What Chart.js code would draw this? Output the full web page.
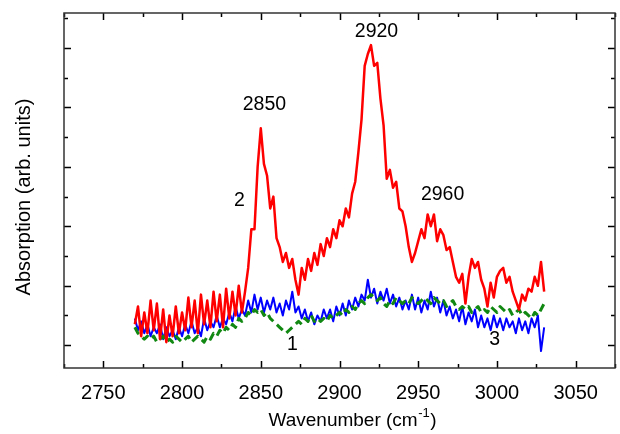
<!DOCTYPE html>
<html>
<head>
<meta charset="utf-8">
<script src="https://cdn.jsdelivr.net/npm/chart.js@4.4.1/dist/chart.umd.min.js"></script>
<style>
html,body{margin:0;padding:0;background:#fff;}
#c{display:block;}
</style>
</head>
<body>
<canvas id="c" width="620" height="434"></canvas>
<script>
const wavenumbers = [2770,2772,2774,2776,2778,2780,2782,2784,2786,2788,2790,2792,2794,2796,2798,2800,2802,2804,2806,2808,2810,2812,2814,2816,2818,2820,2822,2824,2826,2828,2830,2832,2834,2836,2838,2840,2842,2844,2846,2848,2850,2852,2854,2856,2858,2860,2862,2864,2866,2868,2870,2872,2874,2876,2878,2880,2882,2884,2886,2888,2890,2892,2894,2896,2898,2900,2902,2904,2906,2908,2910,2912,2914,2916,2918,2920,2922,2924,2926,2928,2930,2932,2934,2936,2938,2940,2942,2944,2946,2948,2950,2952,2954,2956,2958,2960,2962,2964,2966,2968,2970,2972,2974,2976,2978,2980,2982,2984,2986,2988,2990,2992,2994,2996,2998,3000,3002,3004,3006,3008,3010,3012,3014,3016,3018,3020,3022,3024,3026,3028,3030];

// curve 2 (red)
const series2 = [0.7,1.3,0.3,1.1,0.4,1.5,0.5,1.4,0.2,1.2,0.1,1.0,0.3,1.3,0.4,1.1,0.5,1.6,0.6,1.5,0.4,1.7,0.7,1.5,0.6,1.8,0.8,1.7,0.6,1.9,0.9,1.8,1.0,2.0,1.1,1.8,2.6,3.9,3.9,6.0,7.3,6.1,5.7,4.6,5.0,3.6,3.3,2.8,3.1,2.6,2.9,2.2,1.7,2.6,2.2,2.9,2.5,3.1,2.7,3.4,3.0,3.6,3.3,3.9,3.6,4.2,4.0,4.6,4.3,5.1,5.5,6.5,7.6,9.4,9.8,10.1,9.4,9.5,8.3,7.4,5.6,5.9,5.3,5.5,4.6,4.5,4.0,3.3,2.8,3.1,3.5,3.9,3.6,4.4,4.0,4.4,3.5,3.9,3.7,3.2,3.3,2.8,2.3,2.1,2.4,1.4,2.3,2.9,2.6,2.8,2.2,1.9,1.3,2.1,1.6,2.3,2.5,2.6,2.1,2.3,1.8,1.5,1.2,1.7,1.5,1.9,1.8,2.3,2.0,2.8,1.8];

// curve 3 (blue)
const series3 = [0.9,0.5,0.8,0.4,0.7,0.3,0.6,0.4,0.7,0.2,0.6,0.3,0.5,0.2,0.6,0.3,0.7,0.4,0.8,0.4,0.6,0.3,0.9,0.5,0.8,0.6,1.0,0.6,0.9,0.7,1.1,0.8,1.3,0.9,1.2,1.0,1.5,1.1,1.7,1.2,1.6,1.1,1.5,1.2,1.6,1.1,1.4,1.0,1.5,1.2,1.8,1.1,1.3,0.9,1.2,0.8,1.1,0.7,1.0,0.8,1.2,0.9,1.2,0.8,1.3,1.0,1.4,1.0,1.5,1.2,1.6,1.3,1.7,1.5,2.2,1.6,1.9,1.4,1.8,1.5,1.9,1.4,1.7,1.3,1.6,1.2,1.5,1.2,1.7,1.2,1.6,1.1,1.5,1.2,1.8,1.3,1.6,1.1,1.5,1.0,1.3,0.9,1.2,0.8,1.3,0.7,1.1,0.8,1.2,0.6,1.0,0.6,0.9,0.5,1.0,0.6,0.9,0.5,0.9,0.6,0.8,0.4,0.9,0.5,0.8,0.4,0.9,0.6,1.0,-0.2,0.6];

// curve 1 (green dashed)
const series1 = [0.6,0.4,0.3,0.2,0.3,0.2,0.3,0.1,0.2,0.3,0.1,0.2,0.1,0.3,0.2,0.1,0.2,0.3,0.1,0.2,0.3,0.2,0.1,0.3,0.2,0.4,0.3,0.5,0.4,0.6,0.5,0.7,0.6,0.9,0.8,0.9,1.1,1.0,1.2,1.1,1.2,1.0,1.1,0.9,0.8,0.7,0.6,0.5,0.4,0.5,0.6,0.7,0.8,0.7,0.9,0.8,1.0,0.8,0.9,0.8,0.9,0.8,1.0,0.9,1.0,1.1,1.0,1.2,1.1,1.3,1.2,1.4,1.5,1.4,1.6,1.7,1.6,1.5,1.6,1.4,1.3,1.5,1.4,1.6,1.5,1.4,1.5,1.4,1.6,1.5,1.4,1.5,1.6,1.5,1.4,1.6,1.5,1.4,1.5,1.3,1.4,1.5,1.3,1.2,1.3,1.2,1.3,1.1,1.2,1.3,1.1,1.2,1.1,1.3,1.2,1.1,1.3,1.2,1.1,1.2,1.0,1.1,1.2,1.0,1.1,1.0,0.9,1.1,1.0,1.2,1.4];

const xTickLabels = [2750, 2800, 2850, 2900, 2950, 3000, 3050];
const peakLabels = [
  {text: '2850', x: 2852.3, y: 8.08},
  {text: '2920', x: 2923.5, y: 10.54},
  {text: '2960', x: 2965.5, y: 5.08}
];
const curveLabels = [
  {text: '2', x: 2836.4, y: 4.85},
  {text: '1', x: 2870.1, y: 0.03},
  {text: '3', x: 2998.6, y: 0.2}
];

const FONT = '"Liberation Sans", Arial, sans-serif';

function pts(arr){ return wavenumbers.map((w,i)=>({x:w, y:arr[i]})); }

const framePlugin = {
  id: 'frame',
  afterDatasetsDraw(chart){
    const {ctx, chartArea:a, scales:{x, y}} = chart;
    ctx.save();
    ctx.strokeStyle = '#000';
    ctx.lineWidth = 1.5;
    ctx.beginPath();
    for (let v = 2725; v <= 3075; v += 25){
      const px = Math.round(x.getPixelForValue(v)) + 0.5;
      const len = (v % 50 === 0) ? 7 : 4;
      ctx.moveTo(px, a.bottom); ctx.lineTo(px, a.bottom - len);
      ctx.moveTo(px, a.top); ctx.lineTo(px, a.top + len);
    }
    for (let v = 0; v <= 11; v += 1){
      const py = Math.round(y.getPixelForValue(v)) + 0.5;
      const len = (v % 2 === 0) ? 7 : 4;
      ctx.moveTo(a.left, py); ctx.lineTo(a.left + len, py);
      ctx.moveTo(a.right, py); ctx.lineTo(a.right - len, py);
    }
    ctx.stroke();
    ctx.strokeStyle = '#333';
    ctx.lineWidth = 1.5;
    ctx.strokeRect(a.left, a.top, a.right - a.left, a.bottom - a.top);

    ctx.fillStyle = '#000';
    ctx.font = '19.5px ' + FONT;
    ctx.textAlign = 'center';
    ctx.textBaseline = 'middle';
    for (const l of peakLabels.concat(curveLabels)){
      ctx.fillText(l.text, x.getPixelForValue(l.x), y.getPixelForValue(l.y));
    }

    // y title
    ctx.font = '20px ' + FONT;
    ctx.save();
    ctx.translate(30, 197);
    ctx.rotate(-Math.PI / 2);
    ctx.textBaseline = 'alphabetic';
    ctx.fillText('Absorption (arb. units)', 0, 0);
    ctx.restore();

    // x title with superscript
    const t1 = 'Wavenumber (cm', t2 = '-1', t3 = ')';
    ctx.font = '19px ' + FONT;
    const w1 = ctx.measureText(t1).width, w3 = ctx.measureText(t3).width;
    ctx.font = '13px ' + FONT;
    const w2 = ctx.measureText(t2).width;
    const total = w1 + w2 + w3;
    const sx = 352 - total / 2;
    const ty = 421;
    ctx.textAlign = 'left';
    ctx.font = '19px ' + FONT;
    ctx.fillText(t1, sx, ty);
    ctx.font = '13px ' + FONT;
    ctx.fillText(t2, sx + w1 + 0.5, ty - 8);
    ctx.font = '19px ' + FONT;
    ctx.fillText(t3, sx + w1 + w2 + 1, ty);
    ctx.restore();
  }
};

new Chart(document.getElementById('c'), {
  type: 'line',
  data: {
    datasets: [
      {label: '2', data: pts(series2), borderColor: '#ff0000', borderWidth: 2.5, order: 1},
      {label: '1', data: pts(series1), borderColor: '#118811', borderWidth: 3, borderDash: [8, 5], order: 2},
      {label: '3', data: pts(series3), borderColor: '#0000ff', borderWidth: 2, order: 3}
    ]
  },
  options: {
    responsive: false,
    animation: false,
    devicePixelRatio: 1,
    layout: {padding: {top: 13, right: 5, left: 0, bottom: 0}},
    elements: {point: {radius: 0}, line: {tension: 0, borderJoinStyle: 'round'}},
    plugins: {legend: {display: false}, tooltip: {enabled: false}},
    scales: {
      x: {
        type: 'linear', min: 2725, max: 3075,
        grid: {display: false, drawTicks: false},
        border: {display: false},
        ticks: {
          stepSize: 25, autoSkip: false, maxRotation: 0, padding: 13,
          color: '#000', font: {size: 20, family: FONT},
          callback: (v) => xTickLabels.includes(v) ? String(v) : ''
        },
        afterFit: (s) => { s.height = 66; s.paddingLeft = 0; s.paddingRight = 0; }
      },
      y: {
        type: 'linear', min: -0.77, max: 11.18,
        grid: {display: false, drawTicks: false},
        border: {display: false},
        ticks: {display: false},
        afterFit: (s) => { s.width = 64; s.paddingTop = 0; s.paddingBottom = 0; }
      }
    }
  },
  plugins: [framePlugin]
});
</script>
</body>
</html>
